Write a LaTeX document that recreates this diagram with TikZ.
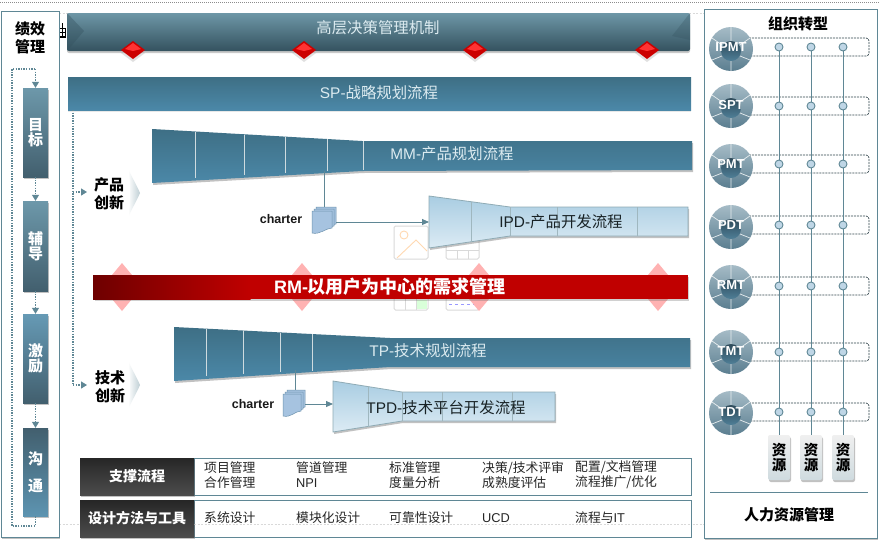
\documentclass[tikz,border=0pt]{standalone}
\usepackage{fontspec}
\setmainfont{Noto Sans CJK SC}
\newfontfamily\lat{Liberation Sans}
\usetikzlibrary{arrows.meta,shadows,calc}
\definecolor{edgeblue}{HTML}{5F8795}
\definecolor{softgray}{HTML}{D9D9D9}
\definecolor{funTop}{HTML}{3E6F85}
\definecolor{funBot}{HTML}{4B88A8}
\definecolor{lightTop}{HTML}{A9CDE2}
\definecolor{lightBot}{HTML}{DCEBF4}
\definecolor{paleTxt}{HTML}{DCEBF0}
\definecolor{barTop}{HTML}{6D98AA}
\definecolor{barBot}{HTML}{425F6E}
\definecolor{dotFill}{HTML}{BFD6E6}
\definecolor{sheetFill}{HTML}{A6C3E0}
\definecolor{sheetEdge}{HTML}{6E93AE}
\definecolor{rmDark}{HTML}{6E0000}
\definecolor{rmRed}{HTML}{C00000}
\tikzset{
  x=1pt,y=-1pt,
  softshadow/.style={drop shadow={shadow xshift=1pt,shadow yshift=-2pt,opacity=.4,fill=black!60}},
  panel/.style={draw=edgeblue,line width=.9pt,fill=white,softshadow},
  perfbar/.style={rectangle,minimum width=25pt,inner sep=0pt,text=white,font=\bfseries\fontsize{15}{16}\selectfont,align=center,softshadow},
  dotline/.style={draw=edgeblue,line width=1.2pt,dash pattern=on 1.3pt off 1.3pt},
  dotarrow/.style={dotline,-{Triangle[length=6pt,width=7pt,fill=edgeblue]}},
  solidarrow/.style={draw=edgeblue,line width=.9pt,-{Triangle[length=7pt,width=6pt,fill=edgeblue]}},
  link/.style={draw=edgeblue,line width=.9pt},
  flowtxt/.style={font=\fontsize{15.4}{17}\selectfont,inner sep=0pt},
  cjkhead/.style={font=\bfseries\fontsize{15}{18}\selectfont,align=center,inner sep=0pt,text=black},
  chartertxt/.style={font=\lat\bfseries\fontsize{12.5}{14}\selectfont,inner sep=0pt,text=black!90},
  darkfun/.style={top color=funTop,bottom color=funBot},
  lightfun/.style={top color=lightTop,bottom color=lightBot,draw=edgeblue!70!white,line width=.8pt,softshadow},
  sep/.style={draw=#1,line width=.6pt},
  tabletxt/.style={font=\fontsize{12.8}{15}\selectfont,anchor=west,align=left,inner sep=0pt,text=black!85},
  tablehead/.style={rectangle,minimum width=114pt,minimum height=37pt,inner sep=0pt,top color=black!85,bottom color=black!70,text=white,font=\bfseries\fontsize{14}{15}\selectfont,softshadow},
  rowbox/.style={draw=edgeblue,line width=.8pt,fill=white},
  teamrow/.style={draw=black!50!edgeblue,line width=.7pt,dash pattern=on 2pt off 1pt,rounded corners=3pt},
  teamdot/.style={circle,draw=edgeblue,line width=.9pt,fill=dotFill,minimum size=8pt,inner sep=0pt},
  teamlabel/.style={font=\lat\bfseries\fontsize{13}{15}\selectfont,text=white,inner sep=0pt},
  resbox/.style={rectangle,rounded corners=2pt,minimum width=22pt,minimum height=45pt,inner sep=0pt,top color=black!6,bottom color=edgeblue!30!white,align=center,font=\bfseries\fontsize{14.5}{14.5}\selectfont,softshadow},
  ghost/.style={draw=softgray,line width=1pt,rounded corners=1.5pt},
}
\newcommand{\reddia}[2]{%
  \fill[black!40,opacity=.3] (#1-12,#2+3) -- (#1,#2-6) -- (#1+12,#2+3) -- (#1,#2+12) -- cycle;
  \fill[red!80!black] (#1-12,#2) -- (#1,#2-9) -- (#1+12,#2) -- (#1,#2+9) -- cycle;
  \fill[red!80!white] (#1-8,#2-1) -- (#1,#2-7) -- (#1+8,#2-1) -- (#1,#2+1) -- cycle;
}
\newcommand{\pinkdia}[2]{%
  \fill[red!30!white] (#1-20,#2) -- (#1,#2-24) -- (#1+20,#2) -- (#1,#2+24) -- cycle;
}
\newcommand{\chev}[1]{%
  \shade[left color=white,right color=edgeblue!40!white] (128,#1-24) .. controls (134,#1-12) and (138,#1-5) .. (140,#1) .. controls (138,#1+5) and (134,#1+12) .. (128,#1+24) .. controls (131,#1+10) and (131,#1-10) .. (128,#1-24) -- cycle;
}
\newcommand{\sheets}[3]{%
  \foreach \d in {4,2,0}{
    \filldraw[draw=sheetEdge,line width=.5pt,fill=sheetFill]
      (#1+\d,#2+4-\d) -- (#1+#3+\d,#2+4-\d) -- (#1+#3+\d,#2+21-\d) .. controls (#1+#3-6+\d,#2+21-\d) and (#1+8+\d,#2+28-\d) .. (#1+\d,#2+26-\d) -- cycle;}
}
\begin{document}
\begin{tikzpicture}
\useasboundingbox (0,0) rectangle (880,544);
\fill[white] (0,0) rectangle (880,544);
\draw[black!45,line width=.7pt,dash pattern=on 1pt off 1pt] (0,2) -- (880,2);
\draw[softgray,line width=.7pt,dash pattern=on 2pt off 1.5pt] (59,13) -- (704,13);
\draw[softgray,line width=.7pt,dash pattern=on 2pt off 1.5pt] (59,524) -- (704,524);
% clipped fragment
\draw[black,line width=.8pt] (60,37.5) -- (66,37.5);
\draw[black,line width=.7pt] (60,28) -- (65,28) -- (65,36) -- (60,36) (60,32) -- (65,32) (62.5,23) -- (62.5,36);

% left panel
\filldraw[panel] (1,11) rectangle (59,537);
\node[cjkhead,font=\bfseries\fontsize{15}{17.5}\selectfont] (perfTitle) at (30,38) {绩效\\管理};
\node[perfbar,minimum height=89pt,top color=barTop,bottom color=barBot] (goal) at (35.5,132.5) {目\\[-1pt]标};
\node[perfbar,minimum height=90pt,top color=barTop,bottom color=barBot] (coach) at (35.5,246) {辅\\[-1pt]导};
\node[perfbar,minimum height=89pt,top color=funBot!85!white,bottom color=barBot] (reward) at (35.5,358.5) {激\\[-1pt]励};
\node[perfbar,minimum height=88pt,top color=barBot,bottom color=funBot!90!white] (talk) at (35.5,472) {沟\\[11pt]通};
\coordinate (loopA) at (12,526);
\coordinate (loopB) at (12,69);
\coordinate (loopC) at (35.5,69);
\coordinate (loopD) at (35.5,526);
\draw[dotline] (talk.south) -- (loopD) -- (loopA) -- (loopB) -- (loopC);
\draw[dotarrow] (loopC) -- (goal.north);
\draw[dotarrow] (goal.south) -- (coach.north);
\draw[dotarrow] (coach.south) -- (reward.north);
\draw[dotarrow] (reward.south) -- (talk.north);

% top bar
\definecolor{tbTop}{HTML}{6E97A7}\definecolor{tbMid}{HTML}{44687A}\definecolor{tbBot}{HTML}{34525F}
\shade[top color=tbTop,middle color=tbMid,bottom color=tbBot,rounded corners=2pt,drop shadow={shadow xshift=0pt,shadow yshift=-2pt,opacity=.35,fill=black!60}] (67,13) rectangle (690,51);
\fill[tbBot,opacity=.4] (67,13) -- (84,31) -- (67,51) -- cycle;
\fill[tbBot,opacity=.3] (690,13) -- (672,36) -- (690,40) -- cycle;
\node[flowtxt,text=paleTxt] (board) at (378,28) {高层决策管理机制};
\reddia{133}{50}\reddia{304}{50}\reddia{475}{50}\reddia{647}{50}

% SP bar
\shade[top color=funTop,bottom color=funBot,drop shadow={shadow xshift=0pt,shadow yshift=-2pt,opacity=.15,fill=black!60}] (68,77) rectangle (691,110);
\node[flowtxt,text=paleTxt] (sp) at (379,93) {{\lat SP-}战略规划流程};
\coordinate (spFoot) at (73,110);

% ghost icons
\draw[ghost] (394,226) rectangle (428,259);
\draw[orange!30!white,line width=.9pt] (404,235) circle (4pt);
\draw[orange!30!white,line width=.9pt] (397,258) -- (416,240) -- (427,251);
\draw[ghost] (446,230) rectangle (479,259);
\draw[ghost] (446,250) -- (479,250) (457,250) -- (457,259) (468,250) -- (468,259);
\draw[ghost] (394,290) rectangle (428,310);
\fill[green!15!white] (417,300) rectangle (427,309);
\draw[ghost] (405,290) -- (405,310) (416,290) -- (416,310);
\draw[ghost] (446,290) rectangle (479,310);
\draw[blue!40!white,line width=.8pt,dashed] (449,304) -- (476,304);

% MM funnel
\path[darkfun,softshadow] (152,129) -- (362,141) -- (692,141) -- (692,170) -- (362,171) -- (152,183) -- cycle;
\foreach \x/\a/\b in {195/132/178,244/135/175,285/137/173,327/139/171,363/141/170}{\draw[sep=white!70!edgeblue] (\x,\a) -- (\x,\b);}
\node[flowtxt,text=paleTxt] (mm) at (452,154) {{\lat MM-}产品规划流程};
\coordinate (mmFoot) at (324,171);

% left stream arrows
\node[cjkhead] (prod) at (109,194) {产品\\创新};
\chev{193}
\node[cjkhead] (tech) at (110,387) {技术\\创新};
\chev{385}
\coordinate (prodIn) at (87,192);
\coordinate (techIn) at (87,385);
\coordinate (spRail) at (73,192);
\coordinate (techRail) at (73,385);
\draw[dotline] (spFoot) -- (techRail);
\draw[dotarrow] (spRail) -- (prodIn);
\draw[dotarrow] (techRail) -- (techIn);

% IPD
\node[chartertxt] (charter1) at (281,219) {charter};
\path[lightfun] (429,196) -- (510,207) -- (688,207) -- (688,236) -- (510,236) -- (429,248) -- cycle;
\foreach \x/\a/\b in {471/202/242,510/207/236,557/207/236,637/207/236}{\draw[sep=edgeblue!60!white] (\x,\a) -- (\x,\b);}
\node[flowtxt,text=black!75!edgeblue] (ipd) at (561,222) {{\lat IPD-}产品开发流程};
\coordinate (ipdIn) at (429,222);
\coordinate (stack1In) at (324,208);
\coordinate (stack1Out) at (336,222);
\draw[link] (mmFoot) -- (stack1In);
\sheets{312}{207}{20}
\draw[solidarrow] (stack1Out) -- (ipdIn);

% RM band
\pinkdia{122}{287}\pinkdia{302}{287}\pinkdia{479}{287}\pinkdia{658}{287}
\fill[black!60,opacity=.3] (95,277) rectangle (689,301);
\fill[rmRed] (250,275) rectangle (688,299);
\shade[left color=rmDark,right color=rmRed] (93,275) rectangle (250.5,299);
\node[inner sep=0pt,text=white,font=\bfseries\fontsize{18}{19}\selectfont] (rm) at (390,287) {{\lat\bfseries RM-}以用户为中心的需求管理};

% TP funnel
\path[darkfun,softshadow] (174,327) -- (390,338) -- (690,338) -- (690,367) -- (390,367) -- (174,381) -- cycle;
\foreach \x/\a/\b in {206/329/376,243/331/374,280/333/372,312/334/371}{\draw[sep=white!70!edgeblue] (\x,\a) -- (\x,\b);}
\node[flowtxt,text=paleTxt] (tp) at (428,351) {{\lat TP-}技术规划流程};
\coordinate (tpFoot) at (295,370);

% TPD
\node[chartertxt] (charter2) at (253,404) {charter};
\path[lightfun] (333,381) -- (402,392) -- (555,392) -- (555,421) -- (402,421) -- (333,432) -- cycle;
\foreach \x/\a/\b in {368/387/427,402/392/421,442/392/421,512/392/421}{\draw[sep=edgeblue!60!white] (\x,\a) -- (\x,\b);}
\node[flowtxt,text=black!75!edgeblue] (tpd) at (446,408) {{\lat TPD-}技术平台开发流程};
\coordinate (tpdIn) at (333,404);
\coordinate (stack2In) at (295,391);
\coordinate (stack2Out) at (305,404);
\draw[link] (tpFoot) -- (stack2In);
\sheets{283}{390}{18}
\draw[solidarrow] (stack2Out) -- (tpdIn);

% support tables
\draw[rowbox] (194,458) rectangle (691,495);
\draw[rowbox] (194,500) rectangle (691,537);
\draw[softgray,line width=.7pt,dash pattern=on 2pt off 1.5pt] (194,524) -- (691,524);
\node[tablehead] (support) at (137,476.5) {支撑流程};
\node[tablehead] (design) at (137,518.5) {设计方法与工具};
\node[tabletxt] (s1) at (204,475) {项目管理\\合作管理};
\node[tabletxt] (s2) at (296,475) {管道管理\\{\lat NPI}};
\node[tabletxt] (s3) at (389,475) {标准管理\\度量分析};
\node[tabletxt] (s4) at (482,475) {决策/技术评审\\成熟度评估};
\node[tabletxt] (s5) at (575,475) {配置/文档管理\\流程推广/优化};
\node[tabletxt] (d1) at (204,518) {系统设计};
\node[tabletxt] (d2) at (296,518) {模块化设计};
\node[tabletxt] (d3) at (389,518) {可靠性设计};
\node[tabletxt] (d4) at (482,518) {{\lat UCD}};
\node[tabletxt] (d5) at (575,518) {流程与{\lat IT}};

% right panel
\filldraw[panel] (704,9) rectangle (877,538);
\node[cjkhead] (orgTitle) at (798,24) {组织转型};
\definecolor{orbTop}{HTML}{A5BBC6}\definecolor{orbBot}{HTML}{5B7E90}
\definecolor{coreTop}{HTML}{2E4A5A}\definecolor{coreBot}{HTML}{4F7F97}
\foreach \n/\cy/\ry/\ly in {IPMT/49/47/47,SPT/106/106/105,PMT/166/164/164,PDT/227/225/225,RMT/287/286/285,TMT/352/352/351,TDT/413/412/412}{
  \draw[teamrow] (731,\ry-9) rectangle (869,\ry+9);
  \shade[top color=orbTop,bottom color=orbBot] (731,\cy) circle (22pt);
  \shade[top color=coreTop,bottom color=coreBot] (731,\cy+2) circle (10pt);
  \draw[white!85!edgeblue,line width=.7pt] (731,\cy-22) -- (731,\cy-8) (731,\cy+12) -- (731,\cy+22)
     (712,\cy-11) -- (722,\cy-4) (750,\cy-11) -- (740,\cy-4) (712,\cy+11) -- (722,\cy+7) (750,\cy+11) -- (740,\cy+7);
  \node[teamlabel] (team\n) at (731,\ly) {\n};
  \node[teamdot] (a\n) at (779,\ry) {};
  \node[teamdot] (b\n) at (811,\ry) {};
  \node[teamdot] (c\n) at (843,\ry) {};
}
\node[resbox] (resA) at (779,457.5) {资\\源};
\node[resbox] (resB) at (811,457.5) {资\\源};
\node[resbox] (resC) at (843,457.5) {资\\源};
\foreach \c in {a,b,c}{
  \draw[link] (\c IPMT) -- (\c SPT);
  \draw[link] (\c SPT) -- (\c PMT);
  \draw[link] (\c PMT) -- (\c PDT);
  \draw[link] (\c PDT) -- (\c RMT);
  \draw[link] (\c RMT) -- (\c TMT);
  \draw[link] (\c TMT) -- (\c TDT);
}
\draw[link] (aTDT) -- (resA);
\draw[link] (bTDT) -- (resB);
\draw[link] (cTDT) -- (resC);
\draw[edgeblue,line width=.7pt] (710,492) -- (868,492);
\node[cjkhead] (hr) at (789,515) {人力资源管理};
\end{tikzpicture}
\end{document}
